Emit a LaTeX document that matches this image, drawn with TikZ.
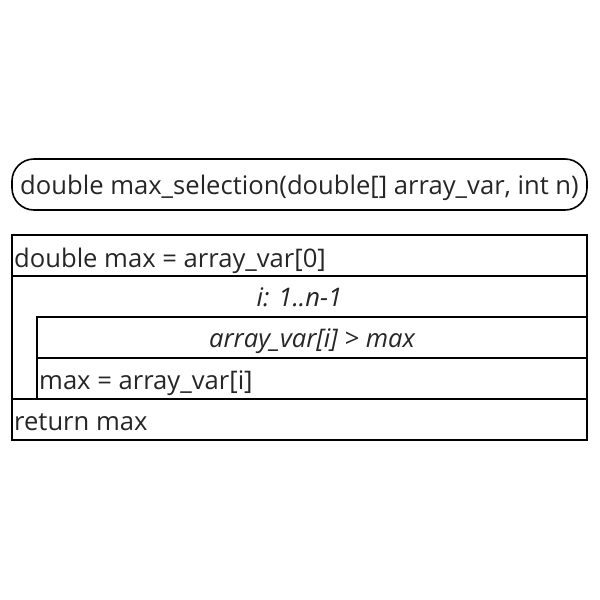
\documentclass[tikz,border=0pt]{standalone}
\usepackage{fontspec}
\setmainfont{Open Sans}
\begin{document}
\begin{tikzpicture}[x=1pt,y=-1pt,
  cell/.style={draw=black,line width=1.6pt},
  txt/.style={inner sep=0pt,text=black!85,font=\fontsize{25.6}{30}\selectfont},
  itxt/.style={txt,font=\fontsize{25.6}{30}\selectfont\itshape}]
\useasboundingbox (0,0) rectangle (600,600);
% function header
\draw[cell,rounded corners=22pt] (12,159) rectangle (587,210);
\node[txt,anchor=base] (head) at (299.5,194) {double max\_selection(double[] array\_var, int n)};
% Nassi-Shneiderman diagram
\draw[cell] (12,235) rectangle (587,276);
\node[txt,anchor=base west] (init) at (14,267) {double max = array\_var[0]};
\draw[cell] (12,276) -- (587,276) -- (587,399) (12,276) -- (12,399);
\node[itxt,anchor=base] (loop) at (299.5,306) {i: 1..n-1};
\draw[cell] (37,317) rectangle (587,358);
\node[itxt,anchor=base] (cond) at (312,347) {array\_var[i] > max};
\draw[cell] (37,358) rectangle (587,399);
\node[txt,anchor=base west] (assign) at (39,389) {max = array\_var[i]};
\draw[cell] (12,399) rectangle (587,440);
\node[txt,anchor=base west] (ret) at (14,430) {return max};
\end{tikzpicture}
\end{document}
